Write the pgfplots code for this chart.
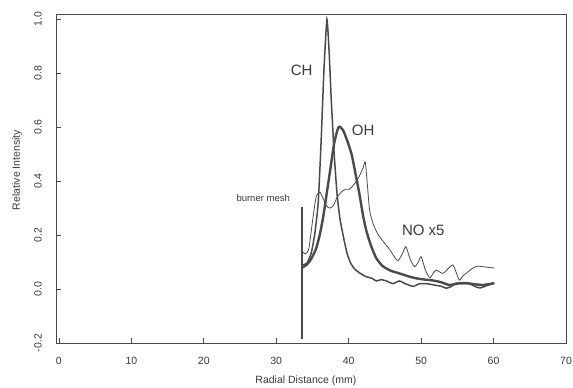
\documentclass[border=0pt]{standalone}
\usepackage{pgfplots}
\pgfplotsset{compat=1.18}
\usepackage{fontspec}
\setmainfont{Liberation Sans}
\definecolor{ink}{HTML}{4A4A4A}
\definecolor{txt}{HTML}{3A3A3A}
\begin{document}
\begin{tikzpicture}[x=1pt,y=1pt]
\begin{axis}[
  at={(0,0)}, anchor=south west,
  scale only axis, width=510pt, height=328.7pt,
  xmin=-0.4, xmax=70, ymin=-0.2, ymax=1.0185,
  xtick={0,10,...,70}, ytick={-0.2,0,0.2,0.4,0.6,0.8,1.0},
  axis lines=box,
  tick pos=left, tick align=inside, major tick length=5pt,
  every tick/.style={ink, line width=0.6pt},
  axis line style={ink, line width=1pt},
  /pgf/number format/assume math mode=true,
  font=\fontsize{10.5}{12}\selectfont\color{txt},
  yticklabel={\pgfmathprintnumber[fixed,fixed zerofill,precision=1]{\tick}},
  xticklabel style={anchor=north, inner sep=0pt, yshift=-14pt},
  yticklabel style={rotate=90, anchor=south, inner sep=0pt},
  yticklabel shift=14pt,
  xlabel={Radial Distance (mm)}, ylabel={Relative Intensity},
  xlabel style={at={(axis description cs:0.49,-0.116)}, anchor=center, font=\fontsize{10.5}{12}\selectfont\color{txt}},
  ylabel style={at={(axis description cs:-0.076,0.526)}, anchor=center, font=\fontsize{10.5}{12}\selectfont\color{txt}},
  clip=false,
]
% burner mesh
\addplot[ink, line width=2pt] coordinates {(33.56,-0.185) (33.56,0.305)};
% CH
\addplot[ink, line width=1.5pt, smooth, tension=0.3] coordinates {
(33.6,0.09) (34.2,0.095) (34.8,0.13) (35.3,0.2) (35.8,0.32) (36.2,0.55) (36.6,0.82) (37.0,1.0) (37.3,0.88) (37.6,0.7) (38.0,0.5) (38.4,0.35) (38.8,0.26) (39.3,0.19) (39.8,0.13) (40.3,0.095) (40.8,0.075) (41.5,0.06) (42.4,0.046) (43.2,0.04) (43.8,0.03) (44.5,0.035) (45.2,0.03) (46.1,0.02) (47.0,0.03) (47.8,0.02) (48.9,0.01) (49.8,0.02) (50.7,0.02) (51.8,0.015) (52.8,0.01) (53.5,0.003) (54.2,0.01) (54.9,0.022) (55.8,0.02) (56.7,0.02) (57.4,0.01) (58.1,0.004) (59.0,0.012) (60.1,0.022)};
% OH
\addplot[ink, line width=2.4pt, smooth, tension=0.4] coordinates {
(33.6,0.08) (34.2,0.09) (34.8,0.11) (35.5,0.15) (36.0,0.2) (36.5,0.27) (37.0,0.36) (37.5,0.45) (38.0,0.54) (38.6,0.60) (39.2,0.59) (39.8,0.55) (40.4,0.5) (41.0,0.42) (41.5,0.35) (42.0,0.27) (42.5,0.21) (43.1,0.16) (43.8,0.115) (44.7,0.085) (45.8,0.068) (47.0,0.058) (48.4,0.046) (49.3,0.04) (50.5,0.035) (51.6,0.032) (52.8,0.025) (53.9,0.015) (55.0,0.02) (56.2,0.022) (57.3,0.018) (58.5,0.015) (59.3,0.018) (60.1,0.022)};
% NO x5
\addplot[ink, line width=0.8pt, smooth, tension=0.4] coordinates {
(33.6,0.14) (34.0,0.13) (34.5,0.15) (35.0,0.25) (35.5,0.34) (36.0,0.36) (36.4,0.34) (36.9,0.31) (37.4,0.30) (37.9,0.31) (38.4,0.34) (39.0,0.36) (39.6,0.37) (40.1,0.37) (40.8,0.39) (41.5,0.42) (42.0,0.45) (42.3,0.47) (42.6,0.38) (42.9,0.29) (43.4,0.24) (44.0,0.205) (44.8,0.175) (45.7,0.145) (46.3,0.12) (46.8,0.105) (47.4,0.13) (47.9,0.157) (48.5,0.11) (49.1,0.083) (49.6,0.1) (50.0,0.12) (50.6,0.07) (51.2,0.042) (51.7,0.06) (52.1,0.07) (53.0,0.058) (53.7,0.075) (54.4,0.089) (55.0,0.05) (55.3,0.033) (55.8,0.05) (56.2,0.058) (57.1,0.077) (57.8,0.085) (58.5,0.083) (59.3,0.08) (60.1,0.078)};
\node[font=\fontsize{15}{17}\selectfont, text=txt] at (axis cs:33.5,0.812) {CH};
\node[font=\fontsize{15}{17}\selectfont, text=txt] at (axis cs:42.0,0.59) {OH};
\node[font=\fontsize{15}{17}\selectfont, text=txt] at (axis cs:50.3,0.219) {NO x5};
\node[font=\fontsize{9.5}{11}\selectfont, text=txt] at (axis cs:28.2,0.336) {burner mesh};
\end{axis}
\draw[ink, line width=1pt] (0pt,328.7pt) -- (510pt,328.7pt) -- (510pt,0pt);
\pgfresetboundingbox
\path[use as bounding box] (-56pt,-45pt) rectangle (517pt,343pt);
\end{tikzpicture}
\end{document}
